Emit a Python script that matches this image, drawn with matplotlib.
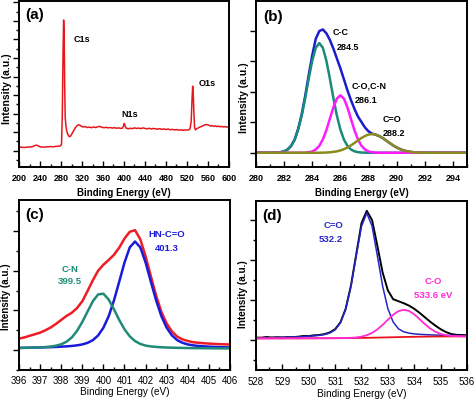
import numpy as np
import matplotlib
matplotlib.use("Agg")
import matplotlib.pyplot as plt
from matplotlib.ticker import MultipleLocator, NullFormatter

plt.rcParams['font.family'] = ['Liberation Sans', 'DejaVu Sans']

# ---- (a) survey spectrum ----
survey_ev = [200, 205, 210, 215, 220, 225, 230, 233, 236, 240, 245, 250, 255, 260, 265, 270, 275, 279,
             281, 282.5, 284, 285, 286, 287, 288, 289.5, 291, 293, 295.5, 298, 301, 304, 307, 310, 313,
             316, 319, 322, 326, 330, 334, 338, 342, 346, 350, 354, 358, 362, 366, 370, 374, 378, 382,
             386, 390, 394, 397, 399, 400.5, 402, 404, 408, 412, 416, 420, 424, 428, 432, 436, 440, 444,
             448, 452, 456, 460, 464, 468, 472, 476, 480, 484, 488, 492, 496, 500, 504, 508, 512, 516,
             520, 524, 526, 528, 529.5, 530.8, 532, 533.2, 534.5, 536, 538, 541, 544, 547, 550, 553, 556,
             559, 562, 565, 568, 571, 574, 577, 580, 583, 586, 589, 592, 595, 598, 600]
survey_int = [1.18, 1.19, 1.17, 1.19, 1.20, 1.21, 1.27, 1.30, 1.27, 1.21, 1.19, 1.20, 1.21, 1.22, 1.21,
              1.23, 1.24, 1.26, 1.35, 3.0, 6.5, 8.05, 7.4, 4.5, 2.8, 2.3, 2.05, 1.88, 1.76, 1.78, 1.92,
              2.08, 2.22, 2.33, 2.40, 2.38, 2.31, 2.28, 2.30, 2.25, 2.27, 2.24, 2.28, 2.25, 2.29, 2.31,
              2.26, 2.24, 2.26, 2.23, 2.25, 2.22, 2.24, 2.21, 2.23, 2.20, 2.22, 2.33, 2.47, 2.35, 2.22,
              2.18, 2.21, 2.19, 2.23, 2.20, 2.22, 2.19, 2.23, 2.20, 2.18, 2.21, 2.17, 2.20, 2.18, 2.16,
              2.19, 2.15, 2.17, 2.14, 2.17, 2.13, 2.15, 2.12, 2.14, 2.11, 2.13, 2.10, 2.12, 2.11, 2.13,
              2.20, 2.60, 3.70, 4.48, 4.00, 3.00, 2.25, 2.12, 2.18, 2.22, 2.27, 2.30, 2.34, 2.38, 2.41,
              2.40, 2.37, 2.33, 2.35, 2.31, 2.34, 2.30, 2.32, 2.29, 2.31, 2.28, 2.30, 2.27, 2.29, 2.27]

# ---- (b) C1s ----
c1s_ev = [280.0, 281.0, 281.25, 281.5, 281.75, 282.0, 282.25, 282.5, 282.75, 283.0, 283.25, 283.5,
          283.75, 284.0, 284.25, 284.5, 284.75, 285.0, 285.25, 285.5, 285.75, 286.0, 286.25, 286.5,
          286.75, 287.0, 287.25, 287.5, 287.75, 288.0, 288.25, 288.5, 288.75, 289.0, 289.25, 289.5,
          289.75, 290.0, 290.25, 290.5, 290.75, 291.0, 291.25, 291.5, 291.75, 292.0, 295.0]
c1s_cc = [0, 0, 0.001, 0.002, 0.005, 0.013, 0.030, 0.063, 0.120, 0.211, 0.339, 0.500, 0.678, 0.841,
          0.958, 1.000, 0.958, 0.841, 0.678, 0.500, 0.339, 0.211, 0.120, 0.063, 0.030, 0.013, 0.005,
          0.002, 0.001, 0, 0, 0, 0, 0, 0, 0, 0, 0, 0, 0, 0, 0, 0, 0, 0, 0, 0]
c1s_co = [0, 0, 0, 0, 0, 0, 0, 0, 0, 0, 0, 0.001, 0.005, 0.012, 0.030, 0.063, 0.121, 0.205, 0.309,
          0.414, 0.494, 0.524, 0.494, 0.414, 0.309, 0.205, 0.121, 0.063, 0.030, 0.012, 0.005, 0.001,
          0, 0, 0, 0, 0, 0, 0, 0, 0, 0, 0, 0, 0, 0, 0]
c1s_cdo = [0, 0, 0, 0, 0, 0, 0, 0, 0, 0, 0, 0, 0, 0, 0, 0, 0.001, 0.002, 0.004, 0.008, 0.013, 0.021,
           0.033, 0.048, 0.067, 0.089, 0.112, 0.135, 0.153, 0.166, 0.170, 0.166, 0.153, 0.135, 0.112,
           0.089, 0.067, 0.048, 0.033, 0.021, 0.013, 0.008, 0.004, 0.002, 0.001, 0, 0]
c1s_env = [0, 0, 0.001, 0.002, 0.005, 0.013, 0.030, 0.063, 0.120, 0.22, 0.35, 0.52, 0.71, 0.89,
           1.04, 1.11, 1.125, 1.09, 1.03, 0.95, 0.86, 0.77, 0.67, 0.57, 0.48, 0.40, 0.33, 0.28, 0.23,
           0.195, 0.175, 0.165, 0.152, 0.135, 0.112, 0.089, 0.067, 0.048, 0.033, 0.021, 0.013, 0.008,
           0.004, 0.002, 0.001, 0, 0]

# ---- (c) N1s ----
n1s_ev = [396.0, 396.25, 396.5, 396.75, 397.0, 397.25, 397.5, 397.75, 398.0, 398.25, 398.5, 398.75,
          399.0, 399.25, 399.5, 399.75, 400.0, 400.25, 400.5, 400.75, 401.0, 401.25, 401.5, 401.75,
          402.0, 402.25, 402.5, 402.75, 403.0, 403.25, 403.5, 403.75, 404.0, 404.25, 404.5, 404.75,
          405.0, 405.25, 405.5, 405.75, 406.0]
n1s_cn = [0.055, 0.058, 0.061, 0.065, 0.070, 0.077, 0.090, 0.111, 0.147, 0.211, 0.318, 0.484, 0.710,
          0.973, 1.231, 1.403, 1.421, 1.274, 1.028, 0.760, 0.525, 0.347, 0.228, 0.157, 0.115, 0.094,
          0.081, 0.071, 0.066, 0.062, 0.058, 0.056, 0.053, 0.051, 0.050, 0.048, 0.047, 0.046, 0.045,
          0.044, 0.044]
n1s_amide = [0.057, 0.059, 0.062, 0.065, 0.068, 0.072, 0.076, 0.081, 0.088, 0.096, 0.105, 0.121, 0.144,
             0.184, 0.251, 0.370, 0.564, 0.853, 1.250, 1.723, 2.206, 2.587, 2.735, 2.587, 2.206, 1.723,
             1.250, 0.853, 0.564, 0.370, 0.251, 0.184, 0.144, 0.121, 0.105, 0.096, 0.088, 0.081, 0.076,
             0.072, 0.068]
n1s_raw = [0.29, 0.32, 0.36, 0.40, 0.44, 0.50, 0.57, 0.66, 0.76, 0.86, 0.94, 1.06, 1.23, 1.49, 1.76,
           2.00, 2.15, 2.27, 2.40, 2.58, 2.81, 2.98, 3.02, 2.79, 2.36, 1.86, 1.37, 0.96, 0.67, 0.47,
           0.34, 0.27, 0.23, 0.20, 0.185, 0.174, 0.165, 0.157, 0.151, 0.146, 0.142]

# ---- (d) O1s ----
o1s_ev = [528.0, 528.2, 528.4, 528.6, 528.8, 529.0, 529.2, 529.4, 529.6, 529.8, 530.0, 530.2, 530.4,
          530.6, 530.8, 531.0, 531.2, 531.4, 531.6, 531.8, 532.0, 532.2, 532.4, 532.6, 532.8, 533.0,
          533.2, 533.4, 533.6, 533.8, 534.0, 534.2, 534.4, 534.6, 534.8, 535.0, 535.2, 535.4, 535.6,
          535.8, 536.0]
o1s_bg = [0.040, 0.040, 0.040, 0.041, 0.041, 0.041, 0.042, 0.042, 0.042, 0.043, 0.043, 0.043, 0.044,
          0.044, 0.045, 0.045, 0.046, 0.047, 0.048, 0.050, 0.052, 0.054, 0.057, 0.060, 0.063, 0.066,
          0.069, 0.072, 0.075, 0.078, 0.080, 0.082, 0.084, 0.086, 0.087, 0.088, 0.089, 0.089, 0.090,
          0.090, 0.090]
o1s_cdo = [0.054, 0.056, 0.058, 0.060, 0.063, 0.066, 0.070, 0.074, 0.079, 0.086, 0.094, 0.103, 0.117,
           0.138, 0.176, 0.254, 0.427, 0.765, 1.337, 2.103, 2.844, 3.174, 2.849, 2.113, 1.352, 0.784,
           0.450, 0.281, 0.206, 0.172, 0.153, 0.142, 0.135, 0.129, 0.124, 0.120, 0.117, 0.114, 0.112,
           0.109, 0.108]
o1s_co = [0.040, 0.040, 0.040, 0.041, 0.041, 0.041, 0.042, 0.042, 0.042, 0.043, 0.043, 0.043, 0.044,
          0.044, 0.045, 0.045, 0.047, 0.049, 0.054, 0.064, 0.083, 0.119, 0.177, 0.265, 0.378, 0.507,
          0.630, 0.720, 0.755, 0.726, 0.641, 0.523, 0.399, 0.291, 0.207, 0.153, 0.120, 0.103, 0.096,
          0.092, 0.091]
o1s_raw = [0.060, 0.058, 0.075, 0.062, 0.070, 0.064, 0.073, 0.072, 0.083, 0.100, 0.098, 0.118, 0.125,
           0.148, 0.190, 0.270, 0.440, 0.780, 1.360, 2.140, 2.920, 3.230, 3.000, 2.360, 1.690, 1.240,
           1.020, 0.970, 0.920, 0.860, 0.780, 0.680, 0.570, 0.460, 0.360, 0.270, 0.200, 0.150, 0.130,
           0.125, 0.120]


def style_axes(ax, bold, tick_size, pad):
    for s in ax.spines.values():
        s.set_linewidth(1.4)
    ax.tick_params(axis='x', which='both', direction='in', top=False, pad=pad,
                   labelsize=tick_size, width=1.0)
    ax.tick_params(axis='x', which='major', length=4)
    ax.tick_params(axis='x', which='minor', length=2)
    ax.tick_params(axis='y', which='both', direction='out', right=False, width=1.0)
    ax.tick_params(axis='y', which='major', length=4)
    ax.tick_params(axis='y', which='minor', length=2)
    ax.yaxis.set_major_formatter(NullFormatter())
    for lab in ax.get_xticklabels():
        lab.set_fontweight('bold' if bold else 'normal')


fig = plt.figure(figsize=(4.74, 4.0), dpi=100)

# (a)
ax = fig.add_axes([0.0401, 0.5825, 0.4430, 0.4138])
ax.plot(survey_ev, survey_int, color='#e8161b', lw=1.1)
ax.set_xlim(200, 600)
ax.set_ylim(0.12, 9.05)
ax.xaxis.set_major_locator(MultipleLocator(40))
ax.xaxis.set_minor_locator(MultipleLocator(20))
ax.yaxis.set_major_locator(MultipleLocator(1))
ax.yaxis.set_minor_locator(MultipleLocator(0.5))
style_axes(ax, True, 6.5, 5)
ax.set_xlabel('Binding Energy (eV)', fontsize=7, fontweight='bold', labelpad=4)
ax.set_ylabel('Intensity (a.u.)', fontsize=7.5, fontweight='bold')
ax.yaxis.set_label_coords(-0.032, 0.476)
ax.text(304.8, 7.0, 'C1s', fontsize=6.5, fontweight='bold', va='center')
ax.text(394.3, 2.97, 'N1s', fontsize=6.5, fontweight='bold', va='center')
ax.text(542.9, 4.64, 'O1s', fontsize=6.5, fontweight='bold', va='center')
ax.text(0.029, 0.918, '(a)', transform=ax.transAxes, fontsize=11, fontweight='bold', va='center')

# (b)
ax = fig.add_axes([0.5401, 0.5825, 0.4451, 0.4138])
ax.plot(c1s_ev, c1s_env, color='#1c1ccf', lw=1.8)
ax.plot(c1s_ev, c1s_cc, color='#1a8a7a', lw=1.8)
ax.plot(c1s_ev, c1s_co, color='#ff1aff', lw=1.8)
ax.plot(c1s_ev, c1s_cdo, color='#8c8c1e', lw=1.8)
ax.set_xlim(280, 295)
ax.set_ylim(-0.13, 1.38)
ax.xaxis.set_major_locator(MultipleLocator(2))
ax.xaxis.set_minor_locator(MultipleLocator(1))
ax.yaxis.set_major_locator(MultipleLocator(0.2775))
style_axes(ax, True, 6.5, 5)
ax.set_xlabel('Binding Energy (eV)', fontsize=7, fontweight='bold', labelpad=4)
ax.set_ylabel('Intensity (a.u.)', fontsize=7.5, fontweight='bold')
ax.yaxis.set_label_coords(-0.033, 0.42)
for x, y, s in [(285.45, 1.10, 'C-C'), (285.73, 0.964, '284.5'), (286.79, 0.606, 'C-O,C-N'),
                (287.0, 0.473, '286.1'), (288.98, 0.306, 'C=O'), (288.98, 0.179, '288.2')]:
    ax.text(x, y, s, fontsize=6.5, fontweight='bold', va='center')
ax.text(0.033, 0.906, '(b)', transform=ax.transAxes, fontsize=11, fontweight='bold', va='center')

# (c)
ax = fig.add_axes([0.0401, 0.075, 0.4451, 0.425])
ax.plot(n1s_ev, n1s_raw, color='#ee1c24', lw=1.8)
ax.plot(n1s_ev, n1s_amide, color='#1a1adb', lw=1.8)
ax.plot(n1s_ev, n1s_cn, color='#1f8a78', lw=1.8)
ax.set_xlim(396, 406)
ax.set_ylim(-0.5, 3.78)
ax.xaxis.set_major_locator(MultipleLocator(1))
ax.xaxis.set_minor_locator(MultipleLocator(0.5))
ax.yaxis.set_major_locator(MultipleLocator(1))
ax.yaxis.set_minor_locator(MultipleLocator(0.5))
style_axes(ax, False, 7, 4)
ax.set_xlabel('Binding Energy (eV)', fontsize=7.2, labelpad=1)
ax.set_ylabel('Intensity (a.u.)', fontsize=7, fontweight='bold')
ax.yaxis.set_label_coords(-0.038, 0.43)
ax.text(398.44, 2.04, 'C-N', fontsize=6.8, fontweight='bold', color='#1f8a78', ha='center', va='center')
ax.text(398.42, 1.74, '399.5', fontsize=6.8, fontweight='bold', color='#1f8a78', ha='center', va='center')
ax.text(402.99, 2.90, 'HN-C=O', fontsize=6.8, fontweight='bold', color='#1a1adb', ha='center', va='center')
ax.text(402.99, 2.57, '401.3', fontsize=6.8, fontweight='bold', color='#1a1adb', ha='center', va='center')
ax.text(0.028, 0.912, '(c)', transform=ax.transAxes, fontsize=11, fontweight='bold', va='center')

# (d)
ax = fig.add_axes([0.5401, 0.075, 0.4451, 0.4225])
ax.plot(o1s_ev, o1s_raw, color='black', lw=1.4)
ax.plot(o1s_ev, o1s_cdo, color='#2626cc', lw=1.1)
ax.plot(o1s_ev, o1s_bg, color='#e8141b', lw=1.3)
ax.plot(o1s_ev, o1s_co, color='#ff2ad4', lw=1.3)
ax.set_xlim(528, 536)
ax.set_ylim(-0.75, 3.475)
ax.xaxis.set_major_locator(MultipleLocator(1))
ax.xaxis.set_minor_locator(MultipleLocator(0.5))
ax.yaxis.set_major_locator(MultipleLocator(1))
ax.yaxis.set_minor_locator(MultipleLocator(0.5))
style_axes(ax, False, 7, 5)
ax.set_xlabel('Binding Energy (eV)', fontsize=7.2, labelpad=1.5)
ax.set_ylabel('Intensity (a.u.)', fontsize=7.2, fontweight='bold')
ax.yaxis.set_label_coords(-0.038, 0.45)
ax.text(530.95, 2.86, 'C=O', fontsize=6.8, fontweight='bold', color='#2626cc', ha='center', va='center')
ax.text(530.84, 2.50, '532.2', fontsize=6.8, fontweight='bold', color='#2626cc', ha='center', va='center')
ax.text(534.72, 1.45, 'C-O', fontsize=6.8, fontweight='bold', color='#ff2ad4', ha='center', va='center')
ax.text(534.70, 1.125, '533.6 eV', fontsize=6.8, fontweight='bold', color='#ff2ad4', ha='center', va='center')
ax.text(0.028, 0.911, '(d)', transform=ax.transAxes, fontsize=11, fontweight='bold', va='center')

fig.savefig('out.png', dpi=100)
